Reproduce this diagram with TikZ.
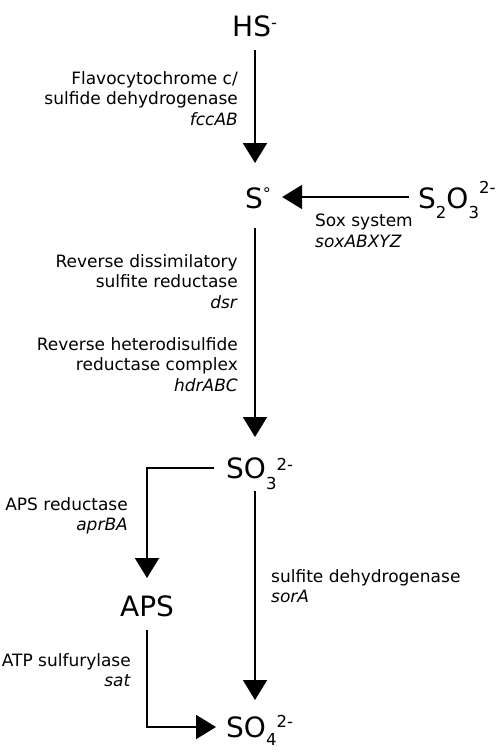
\documentclass[tikz,border=0pt]{standalone}
\usepackage{fontspec}
\setmainfont{DejaVu Sans}
\usetikzlibrary{arrows.meta}
\newcommand{\chsub}[2][10pt]{\raisebox{-#1}{\fontsize{16.5}{16.5}\selectfont #2}}
\newcommand{\chsup}[2][9pt]{\raisebox{#1}{\fontsize{16.5}{16.5}\selectfont #2}}
\begin{document}
\begin{tikzpicture}[x=1pt,y=-1pt,
  species/.style={inner sep=0pt, font=\fontsize{28}{28}\selectfont, anchor=base west},
  enz/.style={inner sep=0pt, font=\fontsize{17}{20.8}\selectfont},
  enzr/.style={enz, align=right, anchor=north east},
  enzl/.style={enz, align=left, anchor=north west},
  arr/.style={line width=2pt, -{Triangle[length=20pt,width=24pt]}},
]
\useasboundingbox (0,0) rectangle (500,753);
\coordinate (ax) at (255,0);
\coordinate (bx) at (147,0);

% species
\node[species] (hs)   at (232,36)  {HS\chsup[8pt]{-}};
\node[species] (s0)   at (245,208) {S\raisebox{9pt}{\fontsize{16}{16}\selectfont °}};
\node[species] (s2o3) at (418,208) {S\chsub{2}O\chsub{3}\chsup[15pt]{2-}};
\node[species] (so3)  at (226,478) {SO\chsub[11pt]{3}\chsup[8pt]{2-}};
\node[species] (aps)  at (120,616) {APS};
\node[species] (so4)  at (226,737) {SO\chsub[8pt]{4}\chsup[10pt]{2-}};

% enzyme labels
\node[enzr] (lfcc) at (238,71) {Flavocytochrome c/\\sulfide dehydrogenase\\\textit{fccAB}};
\node[enzl] (lsox) at (315,214) {Sox system\\\textit{soxABXYZ}};
\node[enzr] (ldsr) at (238,254) {Reverse dissimilatory\\sulfite reductase\\\textit{dsr}};
\node[enzr] (lhdr) at (238,337) {Reverse heterodisulfide\hspace{5pt}\\reductase complex\\\textit{hdrABC}\hspace{5pt}};
\node[enzr] (lapr) at (128,497) {APS reductase\\\textit{aprBA}};
\node[enzl] (lsor) at (271,569) {sulfite dehydrogenase\\\textit{sorA}};
\node[enzr] (lsat) at (131,653) {ATP sulfurylase\\\textit{sat}};

% connectors
\draw[arr] ([yshift=-14pt]hs.base -| ax) -- ([yshift=45pt]s0.base -| ax);
\draw[arr] ([shift={(-9pt,11pt)}]s2o3.base west) -- ([shift={(11pt,11pt)}]s0.base east);
\draw[arr] ([yshift=-20pt]s0.base -| ax) -- ([yshift=41pt]so3.base -| ax);
\draw[arr] ([shift={(-12pt,10pt)}]so3.base west) -| ([yshift=38pt]aps.base -| bx);
\draw[arr] ([yshift=-13pt]so3.base -| ax) -- ([yshift=37pt]so4.base -| ax);
\draw[arr] ([yshift=-14pt]aps.base -| bx) |- ([shift={(-10pt,10pt)}]so4.base west);
\end{tikzpicture}
\end{document}
